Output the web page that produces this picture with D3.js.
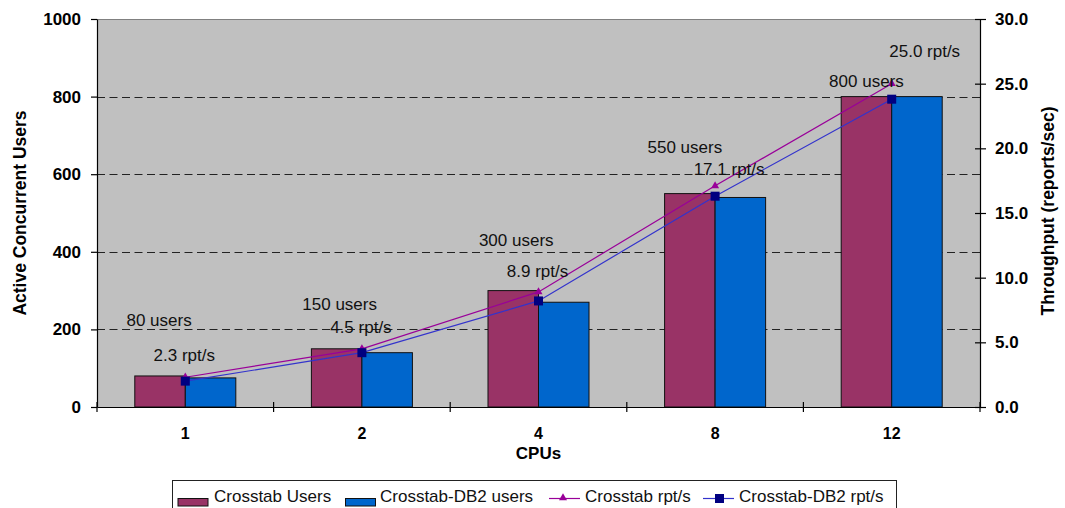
<!DOCTYPE html>
<html>
<head>
<meta charset="utf-8">
<script src="https://cdn.jsdelivr.net/npm/d3@7"></script>
<style>
  html, body { margin: 0; padding: 0; background: #fff; }
  svg { display: block; font-family: Arial, "Liberation Sans", sans-serif; }
</style>
</head>
<body>
<svg id="chart" width="1065" height="508"></svg>
<script>
// ---------- data ----------
const categories = ["1", "2", "4", "8", "12"];
const crosstabUsers = [80, 150, 300, 550, 800];
const db2Users = [75, 140, 270, 540, 800];
const crosstabRpt = [2.3, 4.5, 8.9, 17.1, 25.0];
const db2Rpt = [2.0, 4.2, 8.2, 16.3, 23.8];
const usersTicks = [0, 200, 400, 600, 800, 1000];
const rptTicks = [0, 5, 10, 15, 20, 25, 30];
const seriesNames = ["Crosstab Users", "Crosstab-DB2 users", "Crosstab rpt/s", "Crosstab-DB2 rpt/s"];

// label nudges (pixels), style only
const usersLabelNudge = [[-1, -50], [3, -39], [3, -45], [-5, -41], [0, -10]];
const rptLabelNudge = [[-1, -16], [-1, -16], [-1, -15], [14, -11], [33, -27]];

// ---------- layout ----------
const L = 97, R = 980, T = 19, B = 407;
const colUsers = "#993366", colDb2 = "#0066CC";
const colLine1 = "#990099", colLine2 = "#3333CC", colMark2 = "#000080";

const svg = d3.select("#chart");
const x = d3.scaleBand().domain(categories).range([L, R]).padding(0);
const groupW = x.bandwidth() * 0.572;
const xs = d3.scaleBand().domain([0, 1]).range([0, groupW]).padding(0);
const yL = d3.scaleLinear().domain([0, 1000]).range([B, T]);
const yR = d3.scaleLinear().domain([0, 30]).range([B, T]);
const cx = c => x(c) + x.bandwidth() / 2;

// plot background
svg.append("rect").attr("x", L).attr("y", T).attr("width", R - L).attr("height", B - T).attr("fill", "#C0C0C0");
svg.append("line").attr("x1", L).attr("x2", R).attr("y1", T + 0.5).attr("y2", T + 0.5).attr("stroke", "#808080").attr("stroke-width", 1);

// gridlines
svg.append("g").selectAll("line").data(usersTicks.filter(v => v > 0 && v < 1000)).join("line")
  .attr("x1", L).attr("x2", R)
  .attr("y1", d => Math.round(yL(d)) + 0.5).attr("y2", d => Math.round(yL(d)) + 0.5)
  .attr("stroke", "#222").attr("stroke-width", 1).attr("stroke-dasharray", "8,4.5");

// bars
const barData = [crosstabUsers, db2Users];
const barCols = [colUsers, colDb2];
barData.forEach((arr, si) => {
  svg.append("g").selectAll("rect").data(arr).join("rect")
    .attr("x", (d, i) => cx(categories[i]) - groupW / 2 + xs(si))
    .attr("y", d => yL(d))
    .attr("width", xs.bandwidth())
    .attr("height", d => B - yL(d))
    .attr("fill", barCols[si]).attr("stroke", "#111").attr("stroke-width", 1);
});

// lines
const line = (arr) => d3.line().x((d, i) => cx(categories[i])).y(d => yR(d))(arr);
svg.append("path").attr("d", line(crosstabRpt)).attr("fill", "none").attr("stroke", colLine1).attr("stroke-width", 1.2);
svg.append("path").attr("d", line(db2Rpt)).attr("fill", "none").attr("stroke", colLine2).attr("stroke-width", 1.2);

const tri = d3.symbol().type(d3.symbolTriangle).size(28);
svg.append("g").selectAll("path").data(crosstabRpt).join("path")
  .attr("d", tri).attr("transform", (d, i) => `translate(${cx(categories[i])},${yR(d)})`)
  .attr("fill", colLine1);
svg.append("g").selectAll("rect").data(db2Rpt).join("rect")
  .attr("x", (d, i) => cx(categories[i]) - 4.5).attr("y", d => yR(d) - 4.5)
  .attr("width", 9).attr("height", 9).attr("fill", colMark2);

// data labels
svg.append("g").selectAll("text").data(crosstabUsers).join("text")
  .attr("x", (d, i) => cx(categories[i]) - groupW / 2 + xs(0) + xs.bandwidth() / 2 + usersLabelNudge[i][0])
  .attr("y", (d, i) => yL(d) + usersLabelNudge[i][1])
  .attr("text-anchor", "middle").attr("font-size", 17).attr("fill", "#111")
  .text(d => d + " users");
svg.append("g").selectAll("text").data(crosstabRpt).join("text")
  .attr("x", (d, i) => cx(categories[i]) + rptLabelNudge[i][0])
  .attr("y", (d, i) => yR(d) + rptLabelNudge[i][1])
  .attr("text-anchor", "middle").attr("font-size", 17).attr("fill", "#111")
  .text(d => d3.format(".1f")(d) + " rpt/s");

// axes
const axL = svg.append("g").attr("transform", `translate(${L},0)`)
  .call(d3.axisLeft(yL).tickValues(usersTicks).tickFormat(d3.format("d")).tickSize(6).tickSizeOuter(0).tickPadding(10));
const axR = svg.append("g").attr("transform", `translate(${R},0)`)
  .call(d3.axisRight(yR).tickValues(rptTicks).tickFormat(d3.format(".1f")).tickSize(6).tickSizeOuter(0).tickPadding(9));
axR.selectAll(".tick line").attr("x1", -5);
const axB = svg.append("g").attr("transform", `translate(0,${B})`)
  .call(d3.axisBottom(x).tickSize(0).tickSizeOuter(0).tickPadding(21));
[axL, axR, axB].forEach(a => {
  a.selectAll("path.domain").attr("stroke", "#000").attr("stroke-width", 1.2);
  a.selectAll(".tick line").attr("stroke", "#000").attr("stroke-width", 1.2);
  a.selectAll("text").attr("font-family", "Arial, 'Liberation Sans', sans-serif")
    .attr("font-weight", "bold").attr("fill", "#000");
});
axL.selectAll("text").attr("font-size", 17);
axR.selectAll("text").attr("font-size", 17);
axB.selectAll("text").attr("font-size", 16);

// category boundary ticks (crossing)
const bounds = categories.map(c => x(c)).concat([R]);
svg.append("g").selectAll("line").data(bounds).join("line")
  .attr("x1", d => d).attr("x2", d => d).attr("y1", B - 5).attr("y2", B + 5)
  .attr("stroke", "#000").attr("stroke-width", 1.2);

// axis titles
svg.append("text").attr("x", (L + R) / 2).attr("y", 459).attr("text-anchor", "middle")
  .attr("font-size", 17).attr("font-weight", "bold").text("CPUs");
svg.append("text").attr("transform", "translate(26,213) rotate(-90)").attr("text-anchor", "middle")
  .attr("font-size", 17.5).attr("font-weight", "bold").text("Active Concurrent Users");
svg.append("text").attr("transform", "translate(1054,211) rotate(-90)").attr("text-anchor", "middle")
  .attr("font-size", 17.5).attr("font-weight", "bold").text("Throughput (reports/sec)");

// legend
const lg = svg.append("g");
lg.append("rect").attr("x", 172.5).attr("y", 480.5).attr("width", 724).attr("height", 40)
  .attr("fill", "#fff").attr("stroke", "#222").attr("stroke-width", 1);
const legendItems = [
  { name: seriesNames[0], type: "bar", color: colUsers, x: 178, tx: 214 },
  { name: seriesNames[1], type: "bar", color: colDb2, x: 345.5, tx: 380 },
  { name: seriesNames[2], type: "tri", color: colLine1, x: 549, tx: 585 },
  { name: seriesNames[3], type: "sq", color: colLine2, x: 703, tx: 739 }
];
legendItems.forEach(it => {
  if (it.type === "bar") {
    lg.append("rect").attr("x", it.x).attr("y", 498.5).attr("width", 30).attr("height", 7.5)
      .attr("fill", it.color).attr("stroke", "#111").attr("stroke-width", 1);
  } else {
    lg.append("line").attr("x1", it.x).attr("x2", it.x + 31).attr("y1", 498.5).attr("y2", 498.5)
      .attr("stroke", it.color).attr("stroke-width", 1.2);
    if (it.type === "tri") {
      lg.append("path").attr("d", tri).attr("transform", `translate(${it.x + 14},498)`).attr("fill", colLine1);
    } else {
      lg.append("rect").attr("x", it.x + 12).attr("y", 494).attr("width", 9).attr("height", 9).attr("fill", colMark2);
    }
  }
  lg.append("text").attr("x", it.tx).attr("y", 502).attr("font-size", 17).attr("fill", "#111").text(it.name);
});
</script>
</body>
</html>
